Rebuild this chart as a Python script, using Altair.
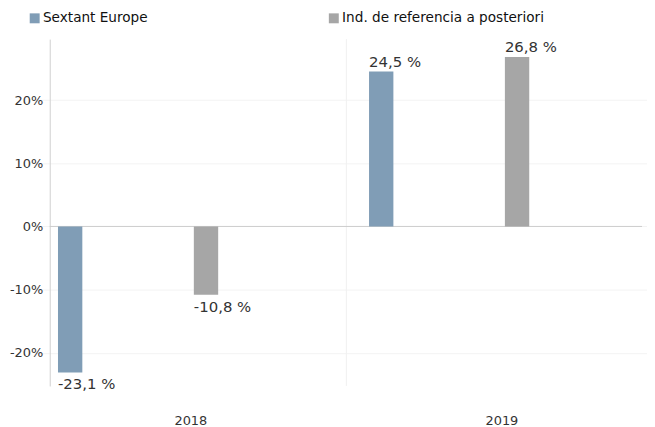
import altair as alt
import pandas as pd

years = ["2018", "2019"]
series = ["Sextant Europe", "Ind. de referencia a posteriori"]
sextant = [-23.1, 24.5]
benchmark = [-10.8, 26.8]
colors = ["#809db6", "#a6a6a6"]
y_ticks = [-20, -10, 0, 10, 20]
zero_line = [0]

rows = []
for i, yr in enumerate(years):
    rows.append({"year": yr, "series": series[0], "value": sextant[i]})
    rows.append({"year": yr, "series": series[1], "value": benchmark[i]})
df = pd.DataFrame(rows)

font = "DejaVu Sans"
x_scale = alt.Scale(domain=years, range=[-14.5, 611.5], paddingInner=0, paddingOuter=0)
off_scale = alt.Scale(domain=series, range=[22.8, 184.0], paddingInner=0.8208, paddingOuter=0)
y_scale = alt.Scale(domain=[-25.24, 29.64], nice=False, zero=False)

x_axis = alt.Axis(title=None, domain=False, ticks=False, grid=False, labelPadding=29,
                  labelFontSize=13, labelColor="#333333", labelFont=font, labelAngle=0)
y_axis = alt.Axis(title=None, values=y_ticks, labelExpr="datum.value + '%'", ticks=False,
                  domainColor="#d0d0d0", grid=True, gridColor="#f3f3f3", labelPadding=7,
                  labelFontSize=13, labelColor="#333333", labelFont=font)

X = alt.X("year:N", scale=x_scale, sort=years, axis=x_axis)
Y = alt.Y("value:Q", scale=y_scale, axis=y_axis)
XO = alt.XOffset("series:N", scale=off_scale, sort=series)

sep = alt.Chart(pd.DataFrame({"year": years[1:]})).mark_rule(color="#f0f0f0").encode(
    x=alt.X("year:N", scale=x_scale, sort=years, axis=x_axis, bandPosition=0)
)
zero = alt.Chart(pd.DataFrame({"value": zero_line})).mark_rule(color="#cccccc").encode(y=Y)

bars = alt.Chart(df).mark_bar().encode(
    x=X, xOffset=XO, y=Y,
    color=alt.Color("series:N", sort=series, scale=alt.Scale(domain=series, range=colors),
                    legend=alt.Legend(title=None, orient="none", legendX=-22, legendY=-28,
                                      direction="horizontal", columns=2, gridAlign="each",
                                      columnPadding=180, symbolType="square", symbolSize=100,
                                      symbolStrokeWidth=0, labelFontSize=13.7, labelFont=font,
                                      labelColor="#111111", labelLimit=400, labelOffset=1.5)),
)

label_expr = "(datum.value < 0 ? '-' : '') + replace(format(abs(datum.value), '.1f'), '.', ',') + ' %'"
pos = alt.Chart(df).transform_filter("datum.value >= 0").transform_calculate(label=label_expr).mark_text(
    align="left", baseline="bottom", dx=-12.25, dy=-2, fontSize=15, font=font, color="#333333"
).encode(x=X, xOffset=XO, y=Y, text="label:N")
neg = alt.Chart(df).transform_filter("datum.value < 0").transform_calculate(label=label_expr).mark_text(
    align="left", baseline="top", dx=-12.25, dy=5, fontSize=15, font=font, color="#333333"
).encode(x=X, xOffset=XO, y=Y, text="label:N")

chart = alt.layer(sep, zero, bars, pos, neg).properties(
    width=596, height=349,
    autosize=alt.AutoSizeParams(type="none"),
    padding={"left": 42, "top": 30, "right": 5, "bottom": 42},
    background="white",
).configure_view(stroke=None)

chart.save("out.html", embed_options={"renderer": "svg", "actions": False})
